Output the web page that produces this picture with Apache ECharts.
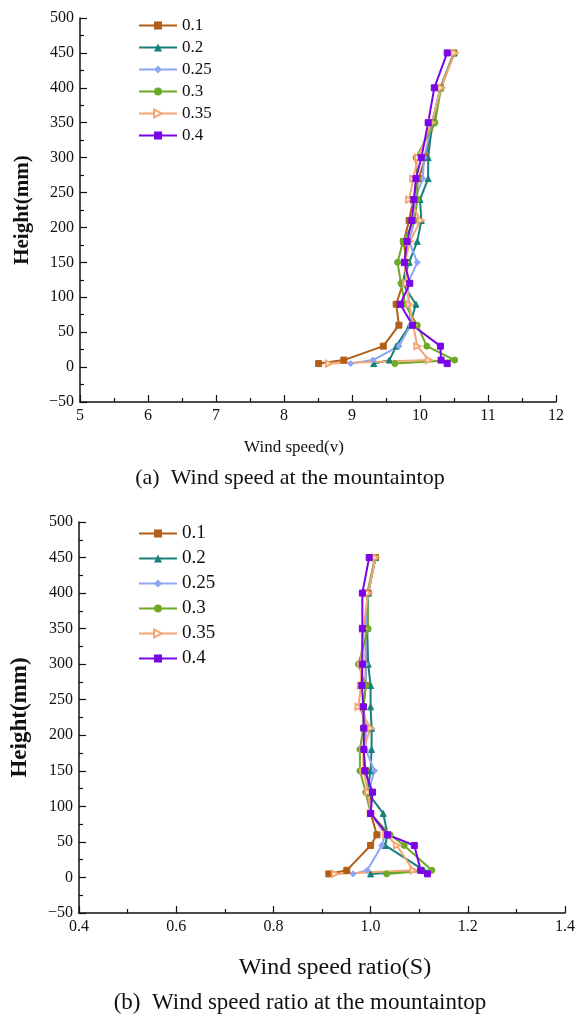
<!DOCTYPE html>
<html>
<head>
<meta charset="utf-8">
<script src="https://cdn.jsdelivr.net/npm/echarts@6/dist/echarts.min.js"></script>
<style>
  html, body { margin: 0; padding: 0; background: #fff; }
  #chart { width: 578px; height: 1016px; }
</style>
</head>
<body>
<div id="chart"></div>
<script>
// series names (legend)
const seriesNames = ["0.1", "0.2", "0.25", "0.3", "0.35", "0.4"];

// (a) wind speed at the mountaintop
const heightsTop = [5, 10, 30, 60, 90, 120, 150, 180, 210, 240, 270, 300, 350, 400, 450];
const speed01 = [8.51, 8.88, 9.46, 9.69, 9.65, 9.75, 9.80, 9.76, 9.84, 9.90, 9.98, 10.08, 10.20, 10.30, 10.50];
const speed02 = [9.32, 9.55, 9.65, 9.85, 9.94, 9.74, 9.84, 9.96, 10.02, 10.00, 10.12, 10.12, 10.18, 10.30, 10.50];
const speed025 = [8.98, 9.31, 9.69, 9.86, 9.84, 9.82, 9.96, 9.84, 9.92, 9.92, 10.04, 10.06, 10.18, 10.30, 10.50];
const speed03 = [9.63, 10.51, 10.10, 9.96, 9.78, 9.72, 9.67, 9.75, 9.92, 9.96, 9.96, 9.94, 10.22, 10.31, 10.50];
const speed035 = [8.66, 10.13, 9.96, 9.90, 9.84, 9.80, 9.78, 9.85, 10.01, 9.84, 9.90, 9.97, 10.17, 10.31, 10.51];
const speed04 = [10.40, 10.31, 10.30, 9.89, 9.71, 9.85, 9.77, 9.81, 9.88, 9.91, 9.94, 10.02, 10.12, 10.21, 10.40];

// (b) wind speed ratio at the mountaintop
const heightsBot = [5, 10, 45, 60, 90, 120, 150, 180, 210, 240, 270, 300, 350, 400, 450];
const ratio01 = [0.914, 0.951, 1.000, 1.013, 1.000, 1.000, 0.990, 0.985, 0.990, 0.985, 0.990, 0.990, 0.990, 0.995, 1.010];
const ratio02 = [1.000, 1.110, 1.030, 1.035, 1.026, 0.993, 1.000, 1.002, 1.002, 1.000, 1.000, 0.995, 0.993, 0.995, 1.010];
const ratio025 = [0.964, 0.993, 1.023, 1.030, 1.000, 0.995, 1.008, 0.990, 0.990, 0.985, 0.990, 0.990, 0.990, 0.995, 1.010];
const ratio03 = [1.033, 1.126, 1.069, 1.040, 1.000, 0.990, 0.978, 0.978, 0.985, 0.985, 0.990, 0.975, 0.995, 0.993, 1.009];
const ratio035 = [0.927, 1.088, 1.054, 1.032, 1.000, 0.995, 0.985, 0.985, 1.000, 0.975, 0.980, 0.980, 0.985, 0.995, 1.010];
const ratio04 = [1.117, 1.103, 1.090, 1.035, 1.000, 1.004, 0.988, 0.986, 0.986, 0.985, 0.982, 0.983, 0.983, 0.983, 0.997];

const colors = ["#B25E17", "#17807A", "#8DA5F2", "#6DAA26", "#F2A774", "#7A05E6"];
const symbols = ["rect", "triangle", "diamond", "circle", "emptyTriangle", "rect"];
const rotations = [0, 0, 0, 0, -90, 0];

const speedData = [speed01, speed02, speed025, speed03, speed035, speed04];
const ratioData = [ratio01, ratio02, ratio025, ratio03, ratio035, ratio04];

const serif = "Liberation Serif";
const minus = v => String(v).replace("-", "\u2212");

function pairs(xs, hs) {
  return xs.map((x, i) => [x, hs[i]]);
}

function makeSeries(values, heights, gridIdx) {
  return values.map((vals, i) => ({
    name: seriesNames[i],
    type: "line",
    xAxisIndex: gridIdx,
    yAxisIndex: gridIdx,
    data: pairs(vals, heights),
    symbol: symbols[i],
    symbolRotate: rotations[i],
    symbolSize: 6,
    lineStyle: { color: colors[i], width: 2 },
    itemStyle: { color: colors[i], borderColor: colors[i] },
    emphasis: { disabled: true },
    animation: false
  }));
}

function xAxis(gridIdx, min, max, interval) {
  return {
    gridIndex: gridIdx,
    type: "value",
    min: min, max: max, interval: interval,
    axisLine: { show: true, onZero: false, lineStyle: { color: "#111", width: 1.5 } },
    axisTick: { show: true, inside: true, length: 7, lineStyle: { color: "#111", width: 1.2 } },
    minorTick: { show: true, splitNumber: 2, length: 4, lineStyle: { color: "#111", width: 1.2 } },
    splitLine: { show: false },
    axisLabel: {
      fontFamily: serif, fontSize: 16, color: "#111", margin: 6,
      formatter: v => gridIdx === 1 ? v.toFixed(1) : String(v),
      showMinLabel: true, showMaxLabel: true
    }
  };
}

function yAxis(gridIdx, nameSize) {
  return {
    gridIndex: gridIdx,
    type: "value",
    min: -50, max: 500, interval: 50,
    name: "Height(mm)",
    nameLocation: "middle",
    nameGap: 47,
    nameRotate: 90,
    nameTextStyle: { fontFamily: serif, fontSize: nameSize, fontWeight: "bold", color: "#111" },
    axisLine: { show: true, onZero: false, lineStyle: { color: "#111", width: 1.5 } },
    axisTick: { show: true, inside: true, length: 7, lineStyle: { color: "#111", width: 1.2 } },
    minorTick: { show: true, splitNumber: 2, length: 4, lineStyle: { color: "#111", width: 1.2 } },
    splitLine: { show: false },
    axisLabel: { fontFamily: serif, fontSize: 16, color: "#111", margin: 6, formatter: minus }
  };
}

function label(text, x, y, size) {
  return {
    text: text,
    left: x, top: y, textAlign: "center",
    textStyle: { fontFamily: serif, fontSize: size, fontWeight: "normal", color: "#111" }
  };
}

const chart = echarts.init(document.getElementById("chart"), null, { renderer: "canvas" });

const option = {
  backgroundColor: "#fff",
  animation: false,
  grid: [
    { left: 80, right: 22, top: 18, height: 384 },
    { left: 79, right: 13, top: 522, height: 391 }
  ],
  title: [
    label("Wind speed(v)", 289, 434, 17),
    label("(a)  Wind speed at the mountaintop", 285, 462, 22),
    label("Wind speed ratio(S)", 330, 951, 24),
    label("(b)  Wind speed ratio at the mountaintop", 295, 986, 23)
  ],
  legend: [
    {
      data: seriesNames,
      orient: "vertical",
      left: 133, top: 12,
      itemWidth: 38, itemHeight: 10, itemGap: 5,
      textStyle: { fontFamily: serif, fontSize: 17, color: "#111" },
      selectedMode: false
    },
    {
      data: seriesNames,
      orient: "vertical",
      left: 133, top: 519,
      itemWidth: 38, itemHeight: 10, itemGap: 6,
      textStyle: { fontFamily: serif, fontSize: 19, color: "#111" },
      selectedMode: false
    }
  ],
  xAxis: [xAxis(0, 5, 12, 1), xAxis(1, 0.4, 1.4, 0.2)],
  yAxis: [yAxis(0, 21), yAxis(1, 23)],
  series: makeSeries(speedData, heightsTop, 0).concat(makeSeries(ratioData, heightsBot, 1))
};

chart.setOption(option);
</script>
</body>
</html>
